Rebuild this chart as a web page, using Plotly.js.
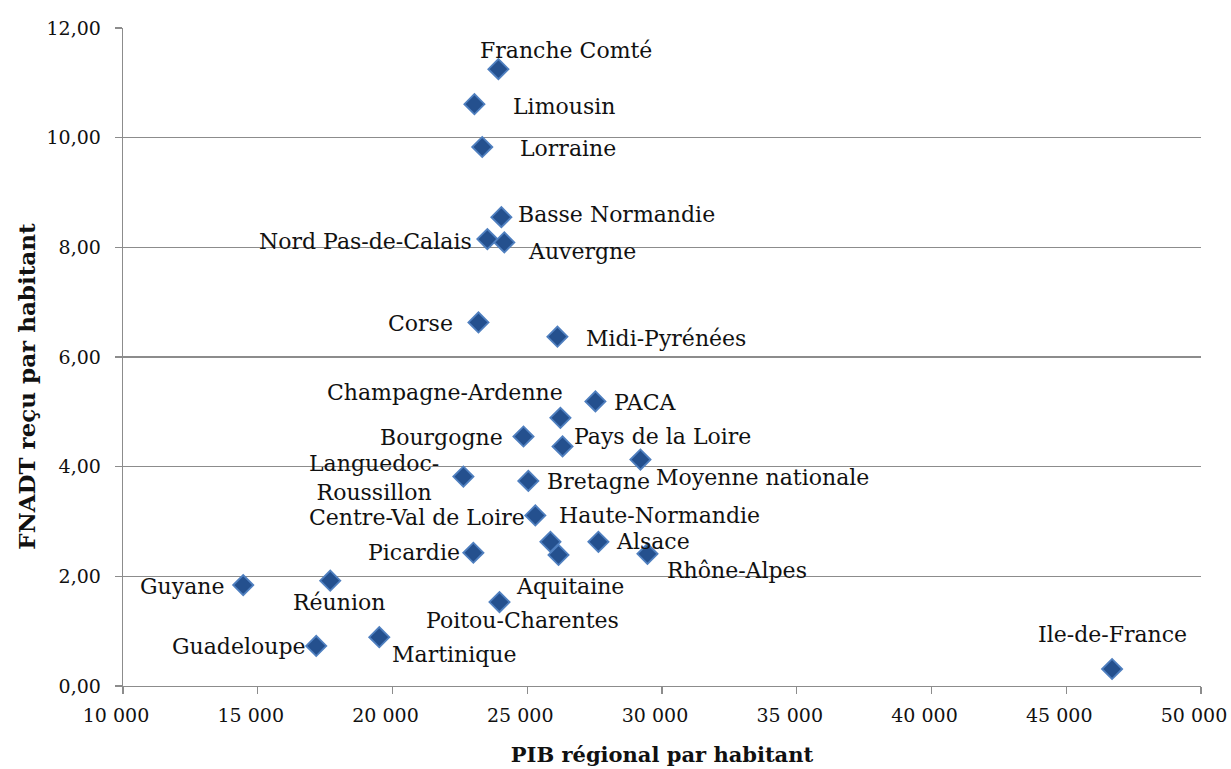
<!DOCTYPE html>
<html>
<head>
<meta charset="utf-8">
<script src="https://cdn.plot.ly/plotly-3.0.1.min.js"></script>
<style>html,body{margin:0;padding:0;background:#fff;}#chart{width:1231px;height:769px;}</style>
</head>
<body>
<div id="chart"></div>
<script>
// Data
const regions = ["Franche Comté","Limousin","Lorraine","Basse Normandie","Nord Pas-de-Calais","Auvergne","Corse","Midi-Pyrénées","Champagne-Ardenne","PACA","Bourgogne","Pays de la Loire","Moyenne nationale","Languedoc-<br>Roussillon","Bretagne","Centre-Val de Loire","Haute-Normandie","Alsace","Rhône-Alpes","Picardie","Aquitaine","Guyane","Réunion","Poitou-Charentes","Guadeloupe","Martinique","Ile-de-France"];
const pibParHabitant = [23930,23040,23330,24040,23520,24150,23190,26120,26230,27530,24860,26310,29200,22630,25040,25300,25860,27640,29460,23000,26160,14460,17690,23970,17170,19510,46700];
const fnadtParHabitant = [11.25,10.61,9.83,8.55,8.15,8.09,6.63,6.37,4.89,5.19,4.55,4.37,4.13,3.82,3.74,3.11,2.63,2.63,2.41,2.43,2.39,1.84,1.92,1.53,0.73,0.89,0.31];
const xTitle = "PIB régional par habitant";
const yTitle = "FNADT reçu par habitant";

// Label placement (offsets in px from each point) — styling only
const labelAnchor = ["center","left","left","left","right","left","right","left","right","left","right","left","left","center","left","right","left","left","left","right","center","right","center","center","right","left","center"];
const labelDx = [68,37,36,15,-13,22,-23,27,5,17,-18,9,14,-89,17,-8,7,16,18,-11,11,-17,9,23,-8,11,0];
const labelDy = [19,-2,-2,3,-2,-9,-1,-2,25,-1,-1,10,-18,-1,-1,-2,26,0,-17,0,-32,-1,-22,-18,-1,-17,35];

const font = "DejaVu Serif, Liberation Serif, serif";

const trace = {
  x: pibParHabitant,
  y: fnadtParHabitant,
  mode: "markers",
  type: "scatter",
  marker: {symbol: "diamond", size: 15.5, color: "#24508E", line: {color: "#4F7FBF", width: 1.8}},
  hoverinfo: "text",
  text: regions
};

const annotations = regions.map((r, i) => ({
  x: pibParHabitant[i], y: fnadtParHabitant[i], xref: "x", yref: "y",
  text: r, showarrow: false, xanchor: labelAnchor[i], yanchor: "middle",
  xshift: labelDx[i], yshift: labelDy[i],
  font: {family: font, size: 22, color: "#111"}
}));
annotations.push({
  xref: "paper", yref: "paper", x: -0.089, y: 0.455, xanchor: "center", yanchor: "middle",
  text: "<b>" + yTitle + "</b>", textangle: -90, showarrow: false,
  font: {family: font, size: 23, color: "#111"}
});

const layout = {
  width: 1231, height: 769,
  margin: {l: 123, r: 30, t: 28, b: 83},
  paper_bgcolor: "#fff", plot_bgcolor: "#fff",
  separators: ", ",
  showlegend: false,
  font: {family: font, color: "#111"},
  xaxis: {
    range: [10000, 50000], dtick: 5000, tick0: 10000, tickformat: ",d",
    ticklabeloverflow: "allow", ticklabelshift: -7, ticklabelstandoff: 5,
    showgrid: false, zeroline: false,
    showline: true, linecolor: "#8c8c8c", linewidth: 1.3,
    ticks: "outside", ticklen: 7, tickcolor: "#8c8c8c", tickwidth: 1.3,
    tickfont: {family: font, size: 19, color: "#111"},
    title: {text: "<b>" + xTitle + "</b>", font: {family: font, size: 21, color: "#111"}, standoff: 22}
  },
  yaxis: {
    range: [0, 12], dtick: 2, tickformat: ".2f",
    ticklabelstandoff: 10,
    showgrid: true, gridcolor: "#8c8c8c", gridwidth: 1.1, zeroline: false,
    showline: true, linecolor: "#8c8c8c", linewidth: 1.3,
    ticks: "outside", ticklen: 7, tickcolor: "#8c8c8c", tickwidth: 1.3,
    tickfont: {family: font, size: 19, color: "#111"}
  },
  annotations: annotations
};

Plotly.newPlot("chart", [trace], layout, {displayModeBar: false, staticPlot: true});
</script>
</body>
</html>
